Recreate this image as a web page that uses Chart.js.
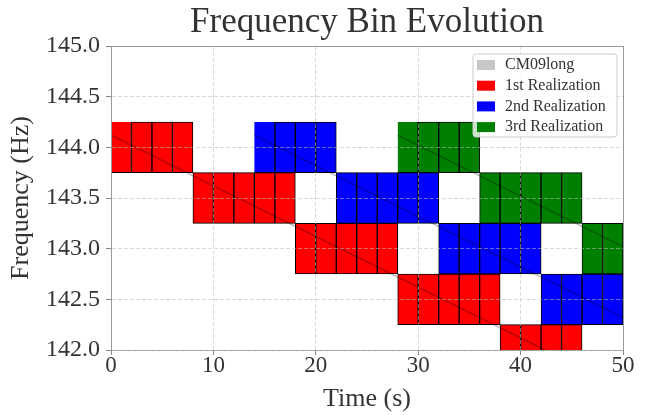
<!DOCTYPE html>
<html>
<head>
<meta charset="utf-8">
<title>Frequency Bin Evolution</title>
<script src="https://cdn.jsdelivr.net/npm/chart.js@4.4.1/dist/chart.umd.min.js"></script>
<style>
  html, body { margin: 0; padding: 0; background: #fff; }
  #wrap { width: 647px; height: 415px; }
</style>
</head>
<body>
<div id="wrap"><canvas id="binChart" width="647" height="415"></canvas></div>
<script>
// time bin width in seconds
var binWidth = 2;

// frequency rows (Hz) and the time span (s) each realization stays in them
var firstFreqs  = [144.0, 143.5, 143.0, 142.5, 142.0];
var firstStarts = [0, 8, 18, 28, 38];
var firstEnds   = [8, 18, 28, 38, 46];

var secondFreqs  = [144.0, 143.5, 143.0, 142.5];
var secondStarts = [14, 22, 32, 42];
var secondEnds   = [22, 32, 42, 50];

var thirdFreqs  = [144.0, 143.5, 143.0];
var thirdStarts = [28, 36, 46];
var thirdEnds   = [36, 46, 50];

// CM09long signal track for each realization (start / end points)
var cmTimes = [[0, 50], [14, 50], [28, 50]];
var cmFreqs = [[144.12, 141.62], [144.12, 142.32], [144.12, 143.02]];

var xTicks = [0, 10, 20, 30, 40, 50];
var yTicks = [142.0, 142.5, 143.0, 143.5, 144.0, 144.5, 145.0];

Chart.defaults.font.family = "'Liberation Serif', 'Times New Roman', serif";
Chart.defaults.color = '#333';

// split each run into 2 s cells
function buildCells(freqs, starts, ends) {
    var cells = [];
    for (var i = 0; i < freqs.length; i++) {
        for (var t = starts[i]; t < ends[i]; t += binWidth) {
            cells.push({ x: [t, t + binWidth], y: freqs[i] });
        }
    }
    return cells;
}

function cellDataset(label, color, cells) {
    return {
        type: 'bar',
        label: label,
        data: cells,
        indexAxis: 'y',
        grouped: false,
        backgroundColor: color,
        borderColor: '#000',
        borderSkipped: false,
        // first cell of a realization has no top/left edge in the original
        borderWidth: function(c) {
            return c.dataIndex === 0 ? { top: 0, left: 0, right: 1, bottom: 1 } : 1;
        },
        barPercentage: 1,
        categoryPercentage: 1,
        clip: 0,
        order: 1
    };
}

function trackDataset(i) {
    return {
        type: 'line',
        label: i === 0 ? 'CM09long' : undefined,
        indexAxis: 'x',
        data: cmTimes[i].map(function(t, j) { return { x: t, y: cmFreqs[i][j] }; }),
        borderColor: 'rgba(0,0,0,0.28)',
        backgroundColor: 'rgba(0,0,0,0.22)',
        borderWidth: 1.6,
        pointRadius: 0,
        tension: 0,
        fill: false,
        clip: 0,
        order: 0
    };
}

// legend drawn inside the plot, top right, like the matplotlib one
var boxLegend = {
    id: 'boxLegend',
    afterDraw: function(chart) {
        var ctx = chart.ctx;
        var area = chart.chartArea;
        var items = chart.data.datasets.filter(function(d) { return d.label; });
        var w = 144, rowH = 20.7, h = 83;
        var left = area.right - 6 - w, top = area.top + 8;
        ctx.save();
        ctx.beginPath();
        ctx.roundRect(left, top, w, h, 3);
        ctx.fillStyle = 'rgba(255,255,255,0.8)';
        ctx.fill();
        ctx.strokeStyle = '#cccccc';
        ctx.lineWidth = 1;
        ctx.stroke();
        ctx.font = "16px 'Liberation Serif', serif";
        ctx.textBaseline = 'middle';
        items.forEach(function(d, i) {
            var cy = top + 11 + i * rowH;
            ctx.fillStyle = d.backgroundColor;
            ctx.fillRect(left + 4, cy - 5, 18, 10);
            ctx.fillStyle = '#333';
            ctx.fillText(d.label, left + 32, cy);
        });
        ctx.restore();
    }
};

var datasets = [trackDataset(0), trackDataset(1), trackDataset(2),
    cellDataset('1st Realization', '#ff0000', buildCells(firstFreqs, firstStarts, firstEnds)),
    cellDataset('2nd Realization', '#0000ff', buildCells(secondFreqs, secondStarts, secondEnds)),
    cellDataset('3rd Realization', '#008000', buildCells(thirdFreqs, thirdStarts, thirdEnds))];

var gridColor = 'rgba(190,190,190,0.55)';

var ctx = document.getElementById('binChart').getContext('2d');
var binChart = new Chart(ctx, {
    type: 'bar',
    data: { datasets: datasets },
    options: {
        responsive: false,
        animation: false,
        indexAxis: 'y',
        layout: { padding: { left: 0, right: 24, top: 0, bottom: 0 } },
        plugins: {
            legend: { display: false },
            tooltip: { enabled: false },
            title: {
                display: true,
                fullSize: false,
                text: 'Frequency Bin Evolution',
                font: { size: 35, weight: 'normal' },
                color: '#333',
                padding: { top: 2, bottom: 2 }
            }
        },
        scales: {
            x: {
                type: 'linear',
                position: 'bottom',
                min: 0,
                max: 50,
                offset: false,
                afterBuildTicks: function(s) { s.ticks = xTicks.map(function(v) { return { value: v }; }); },
                afterFit: function(s) { s.height = 65; },
                grid: { color: gridColor, z: 1, tickLength: 5, tickColor: '#888', offset: false },
                border: { color: '#999', dash: [4, 2], z: 1 },
                ticks: { font: { size: 23 }, color: '#333', padding: -3, maxRotation: 0, autoSkip: false },
                title: { display: true, text: 'Time (s)', font: { size: 26 }, color: '#333', padding: { top: 2, bottom: 0 } }
            },
            y: {
                type: 'linear',
                position: 'left',
                min: 142,
                max: 145,
                offset: false,
                afterBuildTicks: function(s) { s.ticks = yTicks.map(function(v) { return { value: v }; }); },
                afterFit: function(s) { s.width = 111; },
                grid: { color: gridColor, z: 1, tickLength: 5, tickColor: '#888', offset: false },
                border: { color: '#999', dash: [4, 2], z: 1 },
                ticks: {
                    font: { size: 24 }, color: '#333', padding: 6, autoSkip: false,
                    callback: function(v) { return v.toFixed(1); }
                },
                title: { display: true, text: 'Frequency (Hz)', font: { size: 26 }, color: '#333', padding: { top: 6, bottom: 0 } }
            },
            x2: {
                type: 'linear',
                position: 'top',
                min: 0,
                max: 50,
                offset: false,
                afterFit: function(s) { s.height = 0; },
                ticks: { display: false },
                grid: { display: false, drawTicks: false },
                border: { color: '#999', z: 1 }
            },
            y2: {
                type: 'linear',
                position: 'right',
                min: 142,
                max: 145,
                offset: false,
                afterFit: function(s) { s.width = 0; },
                ticks: { display: false },
                grid: { display: false, drawTicks: false },
                border: { color: '#999', z: 1 }
            }
        }
    },
    plugins: [boxLegend]
});
</script>
</body>
</html>
